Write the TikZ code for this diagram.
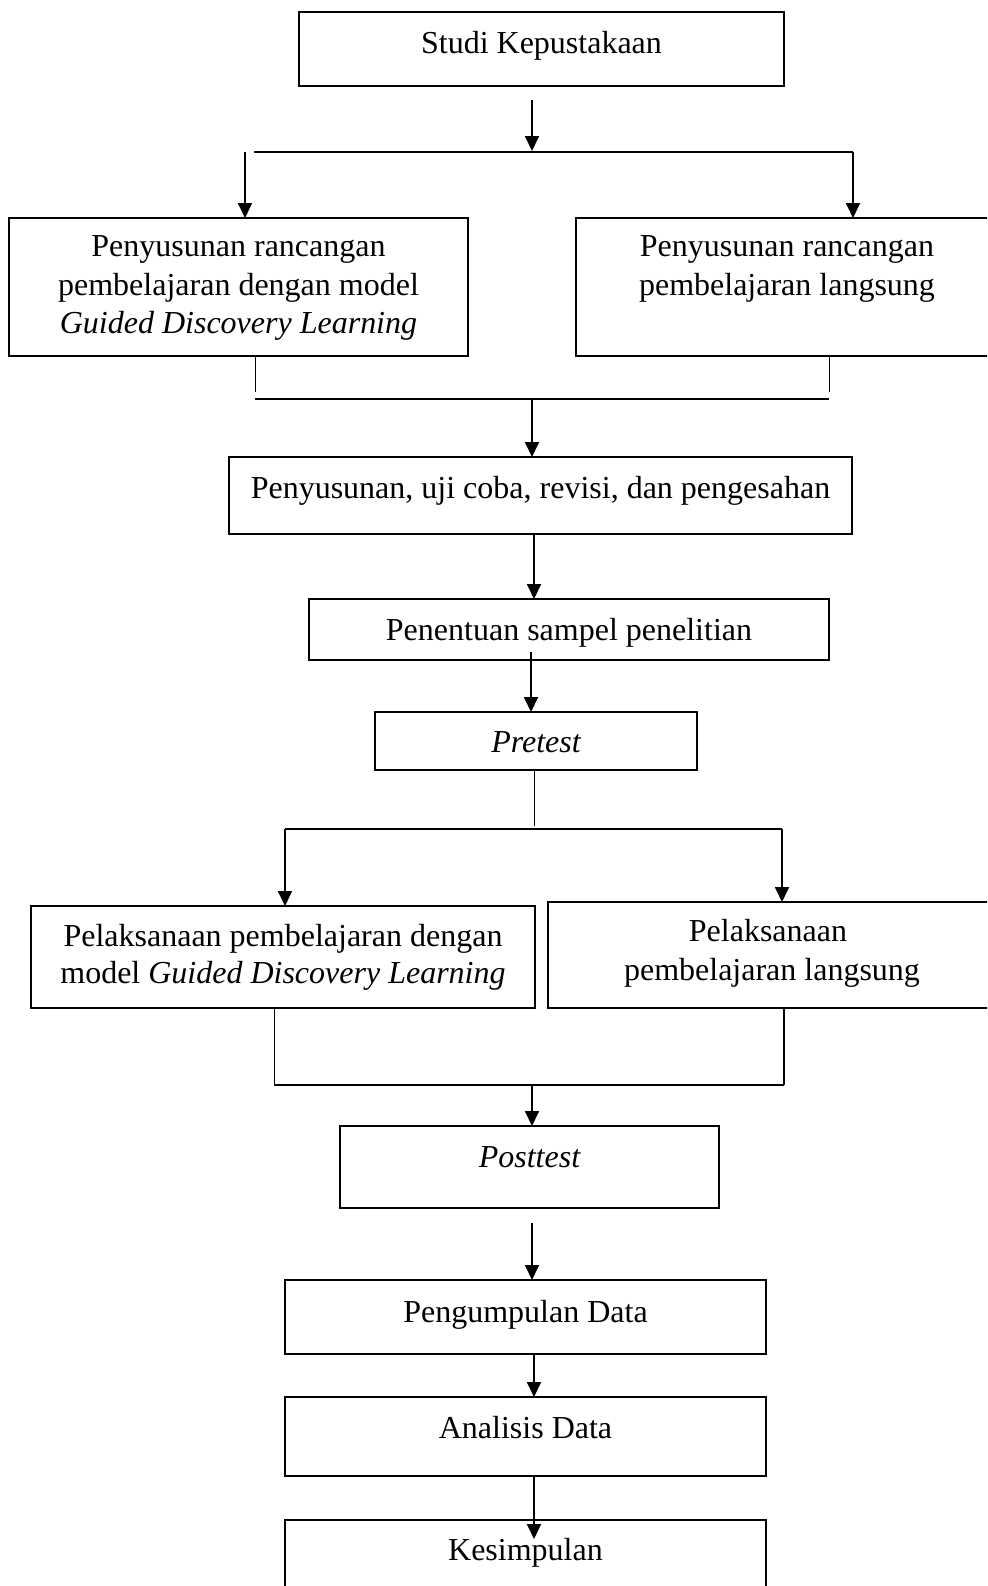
\documentclass[tikz,border=0pt]{standalone}
\usepackage{fontspec}
\setmainfont{Liberation Serif}
\usetikzlibrary{arrows.meta}
\begin{document}
\begin{tikzpicture}[x=0.5pt,y=-0.5pt,
  box/.style 2 args={draw, line width=0.9pt, minimum width=#1*0.5pt, minimum height=#2*0.5pt, inner sep=0pt, outer sep=0pt},
  txt/.style={anchor=base, inner sep=0pt, font=\fontsize{16}{19.3}\selectfont},
  arr/.style={line width=0.9pt, -{Triangle[length=7.5pt,width=7pt]}},
  ln/.style={line width=0.9pt},
  thin/.style={line width=0.5pt}]
\useasboundingbox (0,0) rectangle (987,1586);
\clip (0,0) rectangle (987,1586);
% boxes
\node[box={485}{74}] (studi) at (541.5,49) {};
\node[box={459}{138}] (pgl) at (238.5,287) {};
\node[box={422}{138}] (prl) at (787,287) {};
\node[box={623}{77}] (uji) at (540.5,495.5) {};
\node[box={520}{61}] (pen) at (569,629.5) {};
\node[box={322}{58}] (pre) at (536,741) {};
\node[box={504}{102}] (pgl2) at (283,957) {};
\node[box={448}{106}] (prl2) at (772,955) {};
\node[box={379}{82}] (post) at (529.5,1167) {};
\node[box={481}{74}] (kum) at (525.5,1317) {};
\node[box={481}{79}] (ana) at (525.5,1436.5) {};
\node[box={481}{80}] (kes) at (525.5,1560) {};
% texts
\node[txt] (studi-t) at (541.5,53) {Studi Kepustakaan};
\node[txt] (pgl-t1) at (238.5,256) {Penyusunan rancangan};
\node[txt] (pgl-t2) at (238.5,295) {pembelajaran dengan model};
\node[txt] (pgl-t3) at (238.5,333) {\itshape Guided Discovery Learning};
\node[txt] (prl-t1) at (787,256) {Penyusunan rancangan};
\node[txt] (prl-t2) at (787,295) {pembelajaran langsung};
\node[txt] (uji-t) at (540.5,498) {Penyusunan, uji coba, revisi, dan pengesahan};
\node[txt] (pen-t) at (569,640) {Penentuan sampel penelitian};
\node[txt] (pre-t) at (536,752) {\itshape Pretest};
\node[txt] (pgl2-t1) at (283,946) {Pelaksanaan pembelajaran dengan};
\node[txt] (pgl2-t2) at (283,983) {model \itshape Guided Discovery Learning};
\node[txt] (prl2-t1) at (768,941) {Pelaksanaan};
\node[txt] (prl2-t2) at (772,980) {pembelajaran langsung};
\node[txt] (post-t) at (529.5,1167) {\itshape Posttest};
\node[txt] (kum-t) at (525.5,1322) {Pengumpulan Data};
\node[txt] (ana-t) at (525.5,1438) {Analisis Data};
\node[txt] (kes-t) at (525.5,1560) {Kesimpulan};
% junction coordinates
\coordinate (a1s) at (532,100);
\coordinate (j1) at (532,151);
\coordinate (h1l) at (254,152);
\coordinate (h1r) at (853,152);
\coordinate (v1l) at (245,152);
\coordinate (t1l) at (255,357);
\coordinate (t1lb) at (255,392);
\coordinate (t1r) at (829,357);
\coordinate (t1rb) at (829,392);
\coordinate (h2l) at (255,399);
\coordinate (h2r) at (829,399);
\coordinate (j2) at (532,399);
\coordinate (a4s) at (531,652);
\coordinate (j3) at (534,829);
\coordinate (h3l) at (285,829);
\coordinate (h3r) at (782,829);
\coordinate (h4l) at (274,1085);
\coordinate (h4r) at (784,1085);
\coordinate (j4) at (532,1085);
\coordinate (a6s) at (532,1223);
\coordinate (a8e) at (534,1539);
% connectors
\draw[arr] (a1s) -- (j1);
\draw[ln] (h1l) -- (h1r);
\draw[arr] (v1l) -- (v1l |- pgl.north);
\draw[arr] (h1r) -- (h1r |- prl.north);
\draw[thin] (t1l) -- (t1lb);
\draw[thin] (t1r) -- (t1rb);
\draw[ln] (h2l) -- (h2r);
\draw[arr] (j2) -- (j2 |- uji.north);
\draw[arr] (534,0 |- uji.south) -- (534,0 |- pen.north);
\draw[arr] (a4s) -- (a4s |- pre.north);
\draw[thin] (534,0 |- pre.south) -- (534,826);
\draw[ln] (h3l) -- (h3r);
\draw[arr] (h3l) -- (h3l |- pgl2.north);
\draw[arr] (h3r) -- (h3r |- prl2.north);
\draw[thin] (274,0 |- pgl2.south) -- (h4l);
\draw[ln] (784,0 |- prl2.south) -- (h4r);
\draw[ln] (h4l) -- (h4r);
\draw[arr] (j4) -- (j4 |- post.north);
\draw[arr] (a6s) -- (a6s |- kum.north);
\draw[arr] (534,0 |- kum.south) -- (534,0 |- ana.north);
\draw[arr] (534,0 |- ana.south) -- (a8e);
\end{tikzpicture}
\end{document}
